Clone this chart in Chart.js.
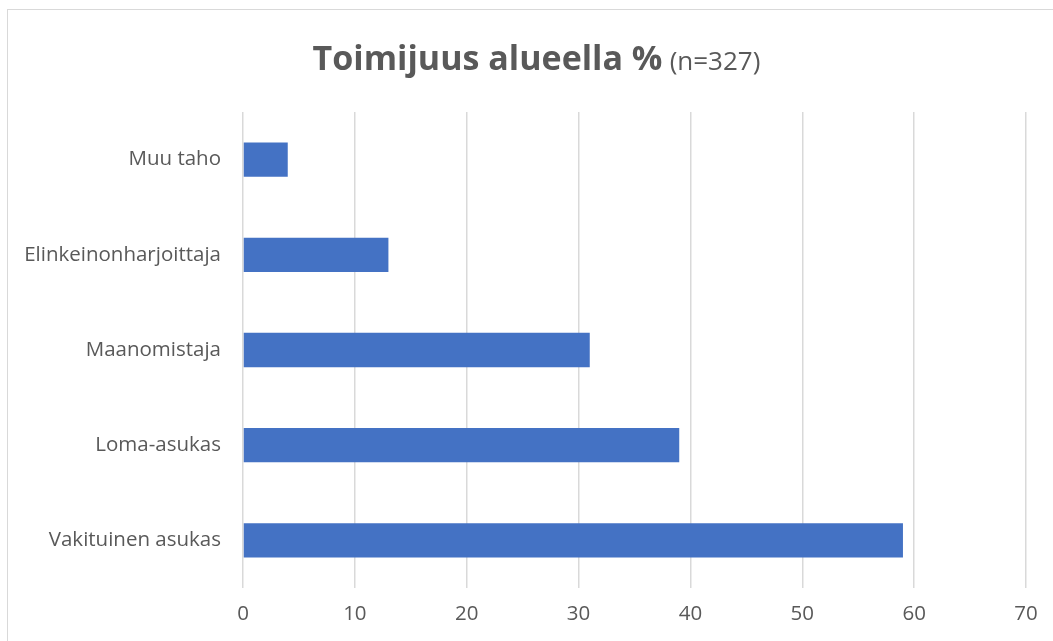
<!DOCTYPE html>
<html>
<head>
<meta charset="utf-8">
<script src="https://cdn.jsdelivr.net/npm/chart.js@4/dist/chart.umd.min.js"></script>
<style>
  html, body { margin: 0; padding: 0; background: #fff; }
  #wrap { position: relative; width: 1053px; height: 641px; overflow: hidden; }
  #frame { position: absolute; left: 7px; top: 9px; width: 1060px; height: 650px; border: 1px solid #d9d9d9; box-sizing: border-box; }
  #title { position: absolute; left: 0; width: 1073px; top: 33px; text-align: center; color: #595959;
           font-family: "Open Sans", sans-serif; white-space: nowrap; line-height: 48px; }
  #title b { font-size: 34px; font-weight: 700; }
  #title span { font-size: 26px; font-weight: 400; margin-left: 3px; }
  canvas { position: absolute; left: 0; top: 0; }
</style>
</head>
<body>
<div id="wrap">
  <div id="frame"></div>
  <canvas id="barChart" width="1053" height="641"></canvas>
  <div id="title"><b>Toimijuus alueella %</b> <span>(n=327)</span></div>
</div>
<script>
// categories top to bottom as in the picture
const categories = ['Muu taho', 'Elinkeinonharjoittaja', 'Maanomistaja', 'Loma-asukas', 'Vakituinen asukas'];
const shares = [4, 13, 31, 39, 59];
const xTicks = [0, 10, 20, 30, 40, 50, 60, 70];

const textColor = '#595959';
const gridColor = '#d9d9d9';
const labelFont = { family: '"Open Sans", sans-serif', size: 20.5 };

const ctx = document.getElementById('barChart').getContext('2d');

new Chart(ctx, {
  type: 'bar',
  data: {
    labels: categories,
    datasets: [
      {
        label: 'Toimijuus alueella %',
        data: shares,
        backgroundColor: '#4472C4',
        borderWidth: 0,
        barPercentage: 0.36,
        categoryPercentage: 1
      }
    ]
  },
  options: {
    indexAxis: 'y',
    responsive: false,
    animation: false,
    layout: {
      padding: { top: 112, right: 27, bottom: 0, left: 0 }
    },
    scales: {
      x: {
        min: xTicks[0],
        max: xTicks[xTicks.length - 1],
        afterBuildTicks: scale => { scale.ticks = xTicks.map(v => ({ value: v })); },
        afterFit: scale => { scale.height = 53; },
        grid: { color: gridColor, lineWidth: 1.5, drawTicks: false },
        border: { display: false },
        ticks: { color: textColor, padding: 14, font: labelFont }
      },
      y: {
        afterFit: scale => { scale.width = 243; },
        grid: { display: false, drawTicks: false },
        border: { display: false },
        ticks: { color: textColor, padding: 22, font: labelFont }
      }
    },
    plugins: {
      legend: { display: false },
      tooltip: { enabled: false }
    }
  }
});
</script>
</body>
</html>
